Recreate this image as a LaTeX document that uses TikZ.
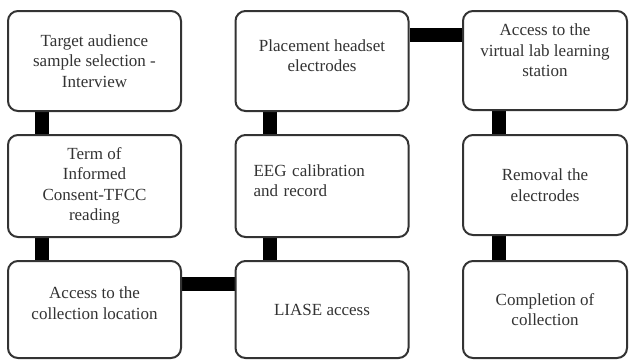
\documentclass[tikz,border=0pt]{standalone}
\usepackage{fontspec}
\setmainfont{Liberation Serif}
\usetikzlibrary{calc,backgrounds}
\definecolor{boxline}{HTML}{333333}
\definecolor{txt}{HTML}{333333}
\tikzset{
  stepbox/.style={draw=boxline, line width=2pt, rounded corners=10pt, fill=white,
    minimum width=173pt, minimum height=100pt, align=center, text=txt,
    font=\fontsize{17}{20.5}\selectfont, inner sep=0pt},
  conn/.style={line width=14pt, black, line cap=butt}
}
\begin{document}
\begin{tikzpicture}[x=1pt,y=-1pt]
\useasboundingbox (0,0) rectangle (629,360);
% left column
\node[stepbox, minimum height=100pt] (A) at (94.5,61) {Target audience\\sample selection -\\Interview};
\node[stepbox, minimum height=102pt] (B) at (94.5,186) {Term of\\Informed\\Consent-TFCC\\reading};
\node[stepbox, minimum height=97pt] (C) at (94.5,309.5) {Access to the\\collection location\\[-8pt]\mbox{}};
% middle column
\node[stepbox, minimum height=100pt] (D) at (322,61) {Placement headset\\electrodes\\[-10pt]\mbox{}};
\node[stepbox, minimum height=102pt, text width=137pt, align=left] (E) at (322,186) {EEG calibration\\and record\\[-10pt]\mbox{}};
\node[stepbox, minimum height=97pt] (F) at (322,309.5) {LIASE access};
% right column
\node[stepbox, minimum width=164pt, minimum height=99pt] (G) at (545,60.5) {Access to the\\virtual lab learning\\station\\\rule{0pt}{14pt}};
\node[stepbox, minimum width=164pt, minimum height=100pt] (H) at (545,185) {Removal the\\electrodes};
\node[stepbox, minimum width=164pt, minimum height=97pt] (I) at (545,309.5) {Completion of\\collection};
\begin{scope}[on background layer]
\draw[conn] ($(A.south west)+(35,0)$) -- ($(B.north west)+(35,0)$);
\draw[conn] ($(B.south west)+(35,0)$) -- ($(C.north west)+(35,0)$);
\draw[conn] ($(C.north east)+(0,24)$) -- ($(F.north west)+(0,24)$);
\draw[conn] ($(D.south west)+(35,0)$) -- ($(E.north west)+(35,0)$);
\draw[conn] ($(E.south west)+(35,0)$) -- ($(F.north west)+(35,0)$);
\draw[conn] ($(D.north east)+(0,24.5)$) -- ($(G.north west)+(0,24.5)$);
\draw[conn] ($(G.south west)+(36.5,0)$) -- ($(H.north west)+(36.5,0)$);
\draw[conn] ($(H.south west)+(36.5,0)$) -- ($(I.north west)+(36.5,0)$);
\end{scope}
\end{tikzpicture}
\end{document}
